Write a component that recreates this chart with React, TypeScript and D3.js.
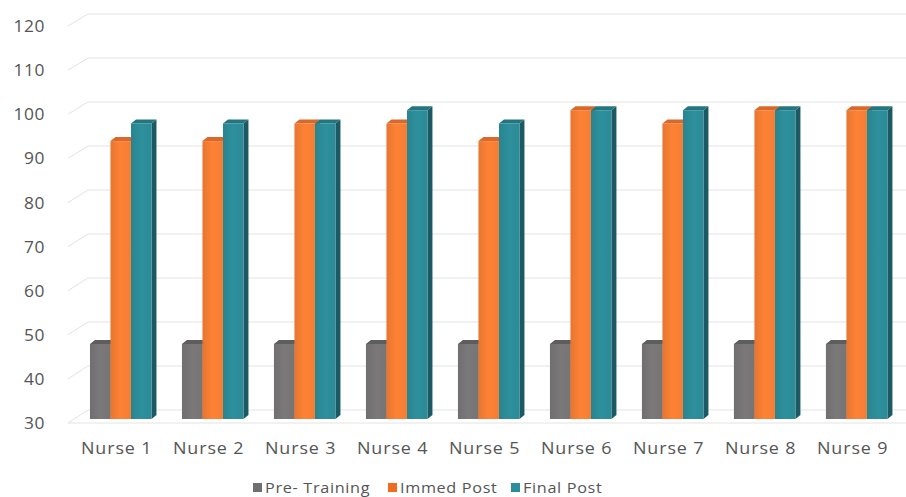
import React from "react";
import * as d3 from "d3";

const nurses = ["Nurse 1", "Nurse 2", "Nurse 3", "Nurse 4", "Nurse 5", "Nurse 6", "Nurse 7", "Nurse 8", "Nurse 9"];
const seriesNames = ["Pre- Training", "Immed Post", "Final Post"];
const preTraining = [47, 47, 47, 47, 47, 47, 47, 47, 47];
const immedPost = [93, 93, 97, 97, 93, 100, 97, 100, 100];
const finalPost = [97, 97, 97, 100, 97, 100, 100, 100, 100];
const yTicks = [30, 40, 50, 60, 70, 80, 90, 100, 110, 120];

const W = 906;
const H = 497;

const colors = [
  { front: "#767474", top: "#5e5c5c", side: "#4a4848", legend: "#6f6f6f" },
  { front: "#f47d33", top: "#d9682a", side: "#b85520", legend: "#f26b21" },
  { front: "#2b8b97", top: "#237580", side: "#1b5a63", legend: "#2a8f9a" },
];

export default function App() {
  const series = [preTraining, immedPost, finalPost];
  const yBack = d3.scaleLinear().domain([30, 120]).range([410, 14]);
  const yFront = d3.scaleLinear().domain([30, 120]).range([423, 26]);
  const yBar = d3.scaleLinear().domain([30, 120]).range([419, 22]);
  const x = d3
    .scaleBand<string>()
    .domain(nurses)
    .range([74.7, 902.7])
    .paddingInner(0.3315)
    .paddingOuter(0.166);
  const xs = d3
    .scaleBand<string>()
    .domain(seriesNames)
    .range([0, x.bandwidth()]);
  const dx = 5;
  const dy = -4;
  const font = "'Open Sans', 'Liberation Sans', sans-serif";
  const sx = 1.12;

  const legendItems = [
    { name: seriesNames[0], sq: 253, tx: 265 },
    { name: seriesNames[1], sq: 388, tx: 400 },
    { name: seriesNames[2], sq: 511, tx: 523 },
  ];

  return (
    <svg
      width={W}
      height={H}
      style={{ position: "absolute", left: 0, top: 0, background: "#fff" }}
      fontFamily={font}
    >
      <defs>
        {colors.map((c, i) => (
          <linearGradient key={i} id={`g${i}`} x1="0" x2="1" y1="0" y2="0">
            <stop offset="0" stopColor={d3.color(c.front)!.darker(0.15).toString()} />
            <stop offset="0.5" stopColor={d3.color(c.front)!.brighter(0.1).toString()} />
            <stop offset="1" stopColor={c.front} />
          </linearGradient>
        ))}
      </defs>
      {/* gridlines */}
      {yTicks.map((t) => (
        <g key={t} stroke="#e3e3e3" strokeWidth={1} fill="none">
          <line x1={68} y1={yFront(t)} x2={88} y2={yBack(t)} />
          <line x1={88} y1={yBack(t)} x2={W} y2={yBack(t)} />
        </g>
      ))}
      {/* floor front edge */}
      <line x1={68} y1={yFront(30)} x2={W} y2={yFront(30)} stroke="#e3e3e3" strokeWidth={1} />
      {/* y labels */}
      {yTicks.map((t) => (
        <text
          key={t}
          transform={`translate(45,${yFront(t)}) scale(${sx},1)`}
          textAnchor="end"
          dominantBaseline="central"
          fontSize={15.5}
          fontWeight={500}
          letterSpacing={0.5}
          fill="#555"
        >
          {t}
        </text>
      ))}
      {/* bars */}
      {nurses.map((n, i) => (
        <g key={n}>
          {series.map((s, j) => {
            const x0 = (x(n) as number) + (xs(seriesNames[j]) as number);
            const w = xs.bandwidth();
            const yt = yBar(s[i]);
            const yb = yBar(30);
            const c = colors[j];
            return (
              <g key={j}>
                <polygon
                  points={`${x0 + w},${yt} ${x0 + w + dx},${yt + dy} ${x0 + w + dx},${yb + dy} ${x0 + w},${yb}`}
                  fill={c.side}
                />
                <polygon
                  points={`${x0},${yt} ${x0 + w},${yt} ${x0 + w + dx},${yt + dy} ${x0 + dx},${yt + dy}`}
                  fill={c.top}
                />
                <rect x={x0} y={yt} width={w} height={yb - yt} fill={`url(#g${j})`} />
              </g>
            );
          })}
        </g>
      ))}
      {/* x labels */}
      {nurses.map((n) => (
        <text
          key={n}
          transform={`translate(${(x(n) as number) + x.bandwidth() / 2 - 4},${448}) scale(${sx},1)`}
          textAnchor="middle"
          dominantBaseline="central"
          fontSize={16}
          fontWeight={500}
          letterSpacing={0.8}
          fill="#555"
        >
          {n}
        </text>
      ))}
      {/* legend */}
      {legendItems.map((it, k) => (
        <g key={it.name}>
          <rect x={it.sq} y={483} width={9} height={9} fill={colors[k].legend} />
          <text
            transform={`translate(${it.tx},${488}) scale(${sx},1)`}
            dominantBaseline="central"
            fontSize={14.5}
            fontWeight={500}
            letterSpacing={0.6}
            fill="#555"
          >
            {it.name}
          </text>
        </g>
      ))}
    </svg>
  );
}
